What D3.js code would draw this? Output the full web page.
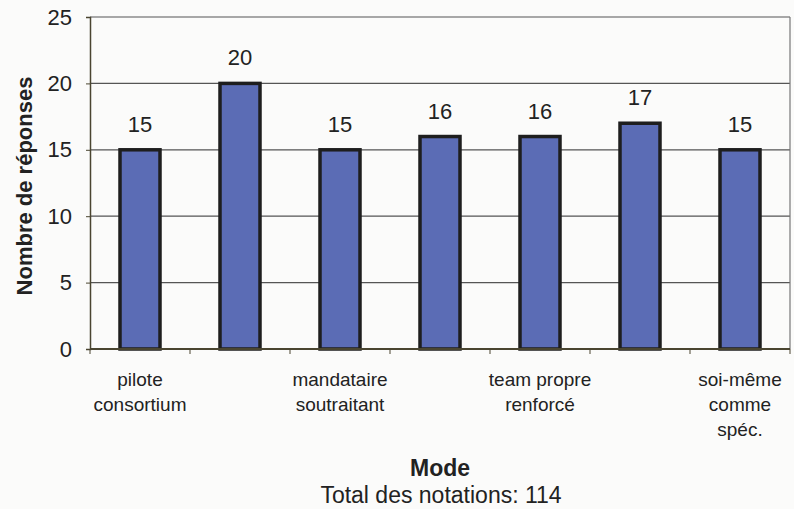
<!DOCTYPE html>
<html><head><meta charset="utf-8">
<script src="https://cdn.jsdelivr.net/npm/d3@7"></script>
<style>body{margin:0;background:#fbfbfa;} svg{display:block;font-family:Arial,"Liberation Sans",sans-serif;}</style>
</head><body>
<script>
const categories = ["pilote consortium","c2","mandataire soutraitant","c4","team propre renforcé","c6","soi-même comme spéc."];
const tickLabels = [["pilote","consortium"],[],["mandataire","soutraitant"],[],["team propre","renforcé"],[],["soi-même","comme","spéc."]];
const values = [15,20,15,16,16,17,15];
const yTicks = [0,5,10,15,20,25];

const W=794,H=509;
const svg=d3.select("body").append("svg").attr("width",W).attr("height",H);
svg.append("rect").attr("width",W).attr("height",H).attr("fill","#fbfbfa");

const x=d3.scaleBand().domain(categories).range([90,790]).paddingInner(0.6).paddingOuter(0.3);
const y=d3.scaleLinear().domain([0,25]).range([349,17]);

// gridlines
svg.append("g").selectAll("line").data(yTicks.filter(d=>d>0)).join("line")
  .attr("x1",90).attr("x2",790).attr("y1",d=>y(d)).attr("y2",d=>y(d))
  .attr("stroke","#555").attr("stroke-width",1.2);
// right border
svg.append("line").attr("x1",790).attr("x2",790).attr("y1",y(25)).attr("y2",y(0)).attr("stroke","#777").attr("stroke-width",1.2);

// bars
svg.append("g").selectAll("rect").data(values).join("rect")
  .attr("x",(d,i)=>x(categories[i])).attr("width",x.bandwidth())
  .attr("y",d=>y(d)).attr("height",d=>y(0)-y(d))
  .attr("fill","#5b6cb5").attr("stroke","#1e1e1e").attr("stroke-width",3.5);

// value labels
svg.append("g").selectAll("text").data(values).join("text")
  .attr("x",(d,i)=>x(categories[i])+x.bandwidth()/2).attr("y",d=>y(d)-18)
  .attr("text-anchor","middle").attr("font-size",22).attr("fill","#222").text(d=>d);

// y axis
const yAxis=d3.axisLeft(y).tickValues(yTicks).tickSize(4).tickPadding(14);
const gy=svg.append("g").attr("transform","translate(90,0)").call(yAxis);
gy.select(".domain").attr("stroke","#4a4530").attr("stroke-width",1.5);
gy.selectAll(".tick line").attr("stroke","#4a4530");
gy.selectAll(".tick text").attr("font-size",22).attr("fill","#222").attr("font-family","Arial, 'Liberation Sans', sans-serif");

// x axis
const xb=d3.scaleLinear().domain([0,7]).range([90,790]);
const gx=svg.append("g").attr("transform","translate(0,349)");
gx.append("line").attr("x1",90).attr("x2",790).attr("stroke","#4a4530").attr("stroke-width",1.8);
gx.selectAll(".t").data(d3.range(0,8)).join("line").attr("class","t")
  .attr("x1",d=>xb(d)).attr("x2",d=>xb(d)).attr("y1",0).attr("y2",5).attr("stroke","#4a4530");
const lab=gx.selectAll(".lab").data(tickLabels).join("text").attr("class","lab")
  .attr("text-anchor","middle").attr("font-size",19).attr("fill","#222")
  .attr("transform",(d,i)=>`translate(${x(categories[i])+x.bandwidth()/2},37)`);
lab.selectAll("tspan").data(d=>d).join("tspan").attr("x",0).attr("dy",(d,j)=>j===0?0:25).text(d=>d);

// titles
svg.append("text").attr("transform","translate(32,186) rotate(-90)").attr("text-anchor","middle")
  .attr("font-size",22).attr("font-weight","bold").attr("fill","#222").text("Nombre de réponses");
svg.append("text").attr("x",440).attr("y",476).attr("text-anchor","middle").attr("font-size",23)
  .attr("font-weight","bold").attr("fill","#222").text("Mode");
svg.append("text").attr("x",441).attr("y",503).attr("text-anchor","middle").attr("font-size",23)
  .attr("fill","#222").text("Total des notations: 114");
</script>
</body></html>
